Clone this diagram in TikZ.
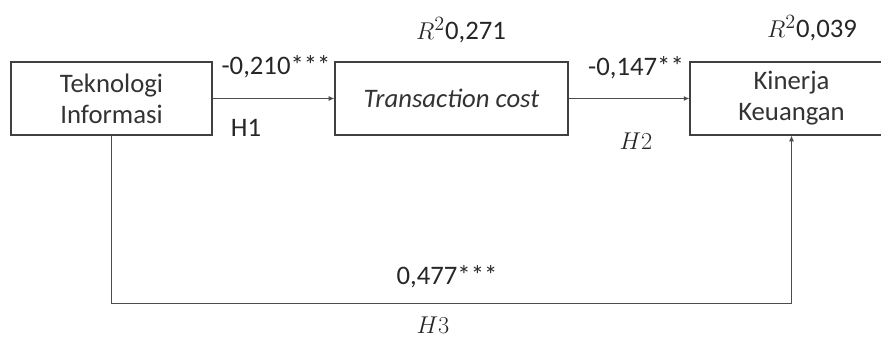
\documentclass[tikz,border=0pt]{standalone}
\usepackage{fontspec}
\setmainfont{Carlito}
\usepackage{tikz}
\usetikzlibrary{arrows.meta, positioning}

\begin{document}
\begin{tikzpicture}[
    x=0.025cm, y=0.025cm,
    var/.style={rectangle, draw=black!75, line width=0.9pt, fill=white,
                minimum height=73*0.025cm, align=center,
                font=\fontsize{19}{22}\selectfont, text=black!80},
    path/.style={-{Latex[length=4pt, width=3.5pt]}, draw=black!70, line width=0.6pt},
    coef/.style={font=\fontsize{19}{22}\selectfont, text=black!85},
    hyp/.style={font=\fontsize{19}{22}\selectfont, text=black!85}
]
\useasboundingbox (0,0) rectangle (881,340);
\begin{scope}
\clip (0,0) rectangle (881,340);

\node[var, minimum width=201*0.025cm] (ti) at (111.5,241.5) {Teknologi\\Informasi};
\node[var, minimum width=233*0.025cm] (tc) at (451.5,241.5) {\textit{Transaction cost}};
\node[var, minimum width=203*0.025cm] (kk) at (791.5,241.5) {Kinerja\\Keuangan};

\coordinate (bend) at (791.5,37);

\draw[path] (ti) -- (tc);
\draw[path] (tc) -- (kk);
\draw[path] (ti.south) |- (bend) -- (kk.south);
\end{scope}

% koefisien jalur dan R^2
\node[coef] (c1) at (276,273) {-0,210***};
\node[coef] (c2) at (636,272) {-0,147**};
\node[coef] (c3) at (447,63) {0,477***};
\node[coef] (r1) at (461,310) {$R^2$0,271};
\node[coef] (r2) at (812,312) {$R^2$0,039};

\node[hyp] (h1) at (246,212) {H1};
\node[hyp] (h2) at (636,199) {$H2$};
\node[hyp] (h3) at (433,15) {$H3$};
\end{tikzpicture}
\end{document}
